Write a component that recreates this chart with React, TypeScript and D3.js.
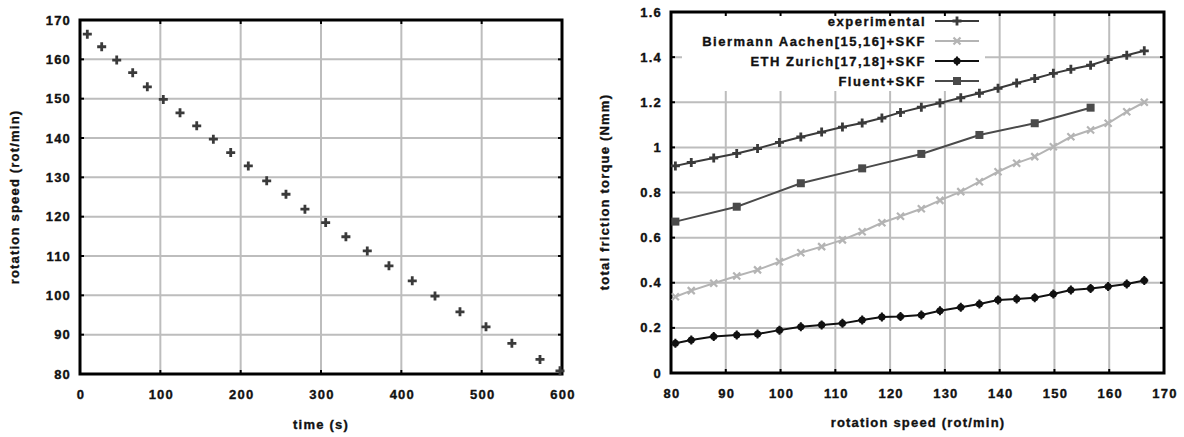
import React, { useEffect, useRef } from 'react';
import * as d3 from 'd3';

// left: speed decay over time
const timeSec = [9.1, 27, 45.7, 65.6, 83.8, 103.7, 124.5, 145.3, 166, 187.6, 209.5, 232.4, 256.4, 280, 305.8, 331, 357.6, 384.6, 413.6, 441.9, 473, 505.4, 537.6, 572.6, 597.5];
const speedRpm = [166.4, 163.2, 159.8, 156.6, 153, 149.8, 146.4, 143.1, 139.7, 136.3, 132.9, 129.1, 125.7, 121.9, 118.5, 114.9, 111.3, 107.5, 103.7, 99.8, 95.8, 92, 87.8, 83.7, 80.8];

// right: friction torque vs speed
const rpm = [80.8, 83.7, 87.8, 92, 95.8, 99.8, 103.7, 107.5, 111.3, 114.9, 118.5, 121.9, 125.7, 129.1, 132.9, 136.3, 139.7, 143.1, 146.4, 149.8, 153, 156.6, 159.8, 163.2, 166.4];
const experimental = [0.918, 0.933, 0.953, 0.973, 0.995, 1.022, 1.046, 1.068, 1.09, 1.108, 1.13, 1.155, 1.178, 1.197, 1.22, 1.24, 1.262, 1.285, 1.305, 1.328, 1.346, 1.364, 1.389, 1.408, 1.428];
const biermann = [0.338, 0.365, 0.398, 0.43, 0.457, 0.493, 0.533, 0.56, 0.59, 0.626, 0.666, 0.695, 0.728, 0.765, 0.804, 0.848, 0.892, 0.93, 0.959, 1.003, 1.047, 1.077, 1.107, 1.158, 1.2];
const eth = [0.132, 0.146, 0.162, 0.168, 0.173, 0.19, 0.205, 0.213, 0.22, 0.235, 0.248, 0.25, 0.257, 0.276, 0.291, 0.306, 0.324, 0.328, 0.334, 0.35, 0.368, 0.375, 0.383, 0.394, 0.41];
const fluentRpm = [80.8, 92, 103.7, 114.9, 125.7, 136.3, 146.4, 156.6];
const fluent = [0.671, 0.737, 0.841, 0.907, 0.971, 1.055, 1.107, 1.176];

const legendLabels = ['experimental', 'Biermann Aachen[15,16]+SKF', 'ETH Zurich[17,18]+SKF', 'Fluent+SKF'];

const leftXTicks = [0, 100, 200, 300, 400, 500, 600];
const leftYTicks = [80, 90, 100, 110, 120, 130, 140, 150, 160, 170];
const rightXTicks = [80, 90, 100, 110, 120, 130, 140, 150, 160, 170];
const rightYTicks = [0, 0.2, 0.4, 0.6, 0.8, 1, 1.2, 1.4, 1.6];

const FONT = 'Liberation Sans, Arial, Helvetica, sans-serif';
const GRID = '#bdbdbd';

type Sel = d3.Selection<SVGGElement, unknown, null, undefined>;

// gnuplot-ish heavy bold text
function addText(g: Sel, x: number, y: number, s: string, anchor = 'middle', transform?: string, spacing = 1.2) {
  const t = g.append('text')
    .attr('text-anchor', anchor)
    .style('font-family', FONT).style('font-weight', 'bold')
    .style('font-size', '13px').style('letter-spacing', `${spacing}px`)
    .attr('fill', '#111').attr('stroke', '#111').attr('stroke-width', 0.35)
    .text(s);
  if (transform) t.attr('transform', transform);
  else t.attr('x', x).attr('y', y);
  return t;
}

function tickLabels(g: Sel, x: any, y: any, xt: number[], yt: number[], fmtY: (v: number) => string) {
  const [x0] = x.range();
  const [y1] = y.range();
  xt.forEach(v => addText(g, x(v) + 1, y1 + 25, String(v)));
  yt.forEach(v => addText(g, x0 - 9, y(v) + 4.5, fmtY(v), 'end'));
}

function grid(g: Sel, x: any, y: any, xt: number[], yt: number[]) {
  const [x0, x1] = x.range();
  const [y1, y0] = y.range();
  xt.forEach(v => g.append('line').attr('x1', x(v)).attr('x2', x(v)).attr('y1', y0).attr('y2', y1)
    .attr('stroke', GRID).attr('stroke-width', 2));
  yt.forEach(v => g.append('line').attr('x1', x0).attr('x2', x1).attr('y1', y(v)).attr('y2', y(v))
    .attr('stroke', GRID).attr('stroke-width', 2));
}

function border(g: Sel, x: any, y: any, xt: number[], yt: number[]) {
  const [x0, x1] = x.range();
  const [y1, y0] = y.range();
  const t = 4;
  xt.forEach(v => {
    g.append('line').attr('x1', x(v)).attr('x2', x(v)).attr('y1', y1).attr('y2', y1 - t).attr('stroke', '#000').attr('stroke-width', 2);
    g.append('line').attr('x1', x(v)).attr('x2', x(v)).attr('y1', y0).attr('y2', y0 + t).attr('stroke', '#000').attr('stroke-width', 2);
  });
  yt.forEach(v => {
    g.append('line').attr('x1', x0).attr('x2', x0 + t).attr('y1', y(v)).attr('y2', y(v)).attr('stroke', '#000').attr('stroke-width', 2);
    g.append('line').attr('x1', x1).attr('x2', x1 - t).attr('y1', y(v)).attr('y2', y(v)).attr('stroke', '#000').attr('stroke-width', 2);
  });
  g.append('rect').attr('x', x0).attr('y', y0).attr('width', x1 - x0).attr('height', y1 - y0)
    .attr('fill', 'none').attr('stroke', '#000').attr('stroke-width', 3);
}

function marker(g: Sel, kind: string, cx: number, cy: number, color: string) {
  if (kind === 'plus') {
    g.append('path').attr('d', `M${cx - 4.5},${cy}H${cx + 4.5}M${cx},${cy - 4.5}V${cy + 4.5}`)
      .attr('stroke', color).attr('stroke-width', 2.8).attr('fill', 'none');
  } else if (kind === 'cross') {
    g.append('path').attr('d', `M${cx - 3.5},${cy - 3.5}L${cx + 3.5},${cy + 3.5}M${cx - 3.5},${cy + 3.5}L${cx + 3.5},${cy - 3.5}`)
      .attr('stroke', color).attr('stroke-width', 2.2).attr('fill', 'none');
  } else if (kind === 'dot') {
    g.append('path').attr('d', d3.symbol(d3.symbolCircle, 40)()!).attr('transform', `translate(${cx},${cy})`).attr('fill', color);
    g.append('path').attr('d', `M${cx - 4},${cy}H${cx + 4}M${cx},${cy - 4.5}V${cy + 4.5}`)
      .attr('stroke', color).attr('stroke-width', 2).attr('fill', 'none');
  } else {
    g.append('rect').attr('x', cx - 4).attr('y', cy - 4).attr('width', 8).attr('height', 8).attr('fill', color);
  }
}

const App = () => {
  const svgRef = useRef<SVGSVGElement>(null);

  useEffect(() => {
    const svg = d3.select(svgRef.current);
    svg.selectAll('*').remove();
    const root = svg.append('g') as unknown as Sel;

    // left chart
    const lx = d3.scaleLinear().domain([0, 600]).range([80, 562]);
    const ly = d3.scaleLinear().domain([80, 170]).range([374, 20]);
    const lg = root.append('g');
    grid(lg, lx, ly, leftXTicks, leftYTicks);
    border(lg, lx, ly, leftXTicks, leftYTicks);
    tickLabels(lg, lx, ly, leftXTicks, leftYTicks, v => String(v));
    timeSec.forEach((t, i) => marker(lg, 'plus', lx(t), ly(speedRpm[i]), '#3a3a3a'));
    addText(lg, 321, 429, 'time (s)');
    addText(lg, 0, 0, 'rotation speed (rot/min)', 'middle', 'translate(19,197) rotate(-90)');

    // right chart
    const rx = d3.scaleLinear().domain([80, 170]).range([671, 1164]);
    const ry = d3.scaleLinear().domain([0, 1.6]).range([373, 12]);
    const rg = root.append('g');
    grid(rg, rx, ry, rightXTicks, rightYTicks);
    // opaque key box
    rg.append('rect').attr('x', 682).attr('y', 13).attr('width', 303).attr('height', 78).attr('fill', '#fff');
    border(rg, rx, ry, rightXTicks, rightYTicks);
    tickLabels(rg, rx, ry, rightXTicks, rightYTicks, v => d3.format('~g')(v));
    addText(rg, 918, 427, 'rotation speed (rot/min)');
    addText(rg, 0, 0, 'total friction torque (Nmm)', 'middle', 'translate(609,192) rotate(-90)');

    const series = [
      { xs: rpm, ys: experimental, color: '#3a3a3a', kind: 'plus' },
      { xs: rpm, ys: biermann, color: '#b4b4b4', kind: 'cross' },
      { xs: rpm, ys: eth, color: '#111111', kind: 'dot' },
      { xs: fluentRpm, ys: fluent, color: '#4a4a4a', kind: 'square' },
    ];
    series.forEach((s, k) => {
      const pts = s.xs.map((v, i) => [rx(v), ry(s.ys[i])] as [number, number]);
      rg.append('path').attr('d', d3.line()(pts)).attr('fill', 'none').attr('stroke', s.color).attr('stroke-width', 2);
      pts.forEach(p => marker(rg, s.kind, p[0], p[1], s.color));
      // key entry
      const ky = 21 + k * 20;
      addText(rg, 926, ky + 4.5, legendLabels[k], 'end', undefined, 1.5);
      rg.append('line').attr('x1', 935).attr('x2', 979).attr('y1', ky).attr('y2', ky).attr('stroke', s.color).attr('stroke-width', 2);
      marker(rg, s.kind, 957, ky, s.color);
    });
  }, []);

  return (
    <div style={{ position: 'absolute', left: 0, top: 0 }}>
      <svg ref={svgRef} width={1184} height={437} style={{ display: 'block', background: '#fff' }} />
    </div>
  );
};

export default App;
